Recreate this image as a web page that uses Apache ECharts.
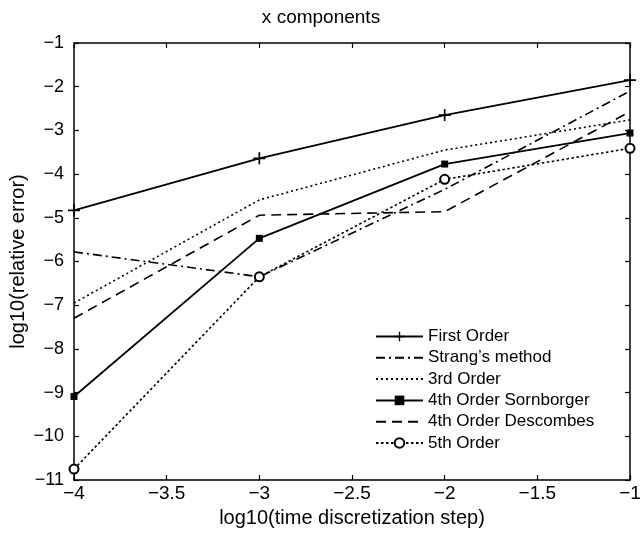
<!DOCTYPE html>
<html>
<head>
<meta charset="utf-8">
<script src="https://cdn.jsdelivr.net/npm/echarts@6/dist/echarts.min.js"></script>
<style>html,body{margin:0;padding:0;background:#fff}#c{width:642px;height:539px}</style>
</head>
<body>
<div id="c"></div>
<script>
const xValues = [-4, -3, -2, -1];
const firstOrder = [-4.83, -3.64, -2.65, -1.85];
const strang = [-5.78, -6.35, -4.35, -2.1];
const thirdOrder = [-6.95, -4.59, -3.45, -2.76];
const sornborger = [-9.09, -5.47, -3.77, -3.06];
const descombes = [-7.30, -4.94, -4.86, -2.57];
const fifthOrder = [-10.75, -6.35, -4.12, -3.41];
const seriesNames = ['First Order', "Strang\u2019s method", '3rd Order', '4th Order Sornborger', '4th Order Descombes', '5th Order'];

const pair = ys => xValues.map((x, i) => [x, ys[i]]);
const fmt = v => String(v).replace('-', '\u2212');
const FONT = 'Liberation Sans, Arial, sans-serif';
const plusPath = 'path://M4.3,0H5.7V10H4.3Z M0,4.3H10V5.7H0Z';
const blankPath = 'path://M0,0H10V10H0Z';

const chart = echarts.init(document.getElementById('c'), null, {renderer: 'canvas'});
const axisCommon = {
  axisLine: {show: true, onZero: false, lineStyle: {color: '#000', width: 1.5}},
  axisTick: {show: true, inside: true, length: 5, lineStyle: {color: '#000', width: 1.2}},
  splitLine: {show: false}
};
function mk(name, data, dash, symbol, size, width) {
  const noSym = symbol === null;
  return {
    name, type: 'line', data: pair(data),
    symbol: noSym ? blankPath : symbol, symbolSize: noSym ? 1 : size,
    showSymbol: !noSym,
    lineStyle: {color: '#000', width: width || 1.6, type: dash},
    itemStyle: {color: noSym ? 'rgba(255,255,255,0)' : '#000', borderColor: noSym ? 'rgba(255,255,255,0)' : '#000',
      borderWidth: symbol === 'emptyCircle' ? 1.6 : 0},
    emphasis: {disabled: true}, animation: false
  };
}
chart.setOption({
  backgroundColor: '#fff',
  animation: false,
  title: {text: 'x components', left: 'center', top: 3,
    textStyle: {fontFamily: FONT, fontSize: 19, fontWeight: 'normal', color: '#000'}},
  grid: {left: 74, right: 12, top: 43, bottom: 59, containLabel: false, outerBoundsMode: 'none'},
  legend: {
    orient: 'vertical', left: 370, top: 323, itemWidth: 47, itemHeight: 12, itemGap: 4.3,
    data: seriesNames,
    textStyle: {fontFamily: FONT, fontSize: 17, color: '#000'},
    backgroundColor: 'rgba(0,0,0,0)'
  },
  xAxis: [
    Object.assign({type: 'value', min: -4, max: -1, interval: 0.5, position: 'bottom',
      name: 'log10(time discretization step)', nameLocation: 'middle', nameGap: 28,
      nameTextStyle: {fontFamily: FONT, fontSize: 20, color: '#000'},
      axisLabel: {fontFamily: FONT, fontSize: 19, color: '#000', margin: 4, formatter: fmt}}, axisCommon),
    Object.assign({type: 'value', min: -4, max: -1, interval: 0.5, position: 'top',
      axisLabel: {show: false}}, axisCommon)
  ],
  yAxis: [
    Object.assign({type: 'value', min: -11, max: -1, interval: 1, position: 'left',
      name: 'log10(relative error)', nameLocation: 'middle', nameGap: 46, nameMoveOverlap: false,
      nameTextStyle: {fontFamily: FONT, fontSize: 20, color: '#000'},
      axisLabel: {fontFamily: FONT, fontSize: 18, color: '#000', margin: 10, formatter: fmt}}, axisCommon),
    Object.assign({type: 'value', min: -11, max: -1, interval: 1, position: 'right',
      axisLabel: {show: false}}, axisCommon)
  ],
  series: [
    mk(seriesNames[0], firstOrder, 'solid', plusPath, 12, 1.8),
    mk(seriesNames[1], strang, [9, 4, 2, 4], null),
    mk(seriesNames[2], thirdOrder, [2, 3], null),
    mk(seriesNames[3], sornborger, 'solid', 'rect', 7, 1.8),
    mk(seriesNames[4], descombes, [10, 6], null),
    mk(seriesNames[5], fifthOrder, [2.5, 2.5], 'emptyCircle', 9)
  ]
});
</script>
</body>
</html>
